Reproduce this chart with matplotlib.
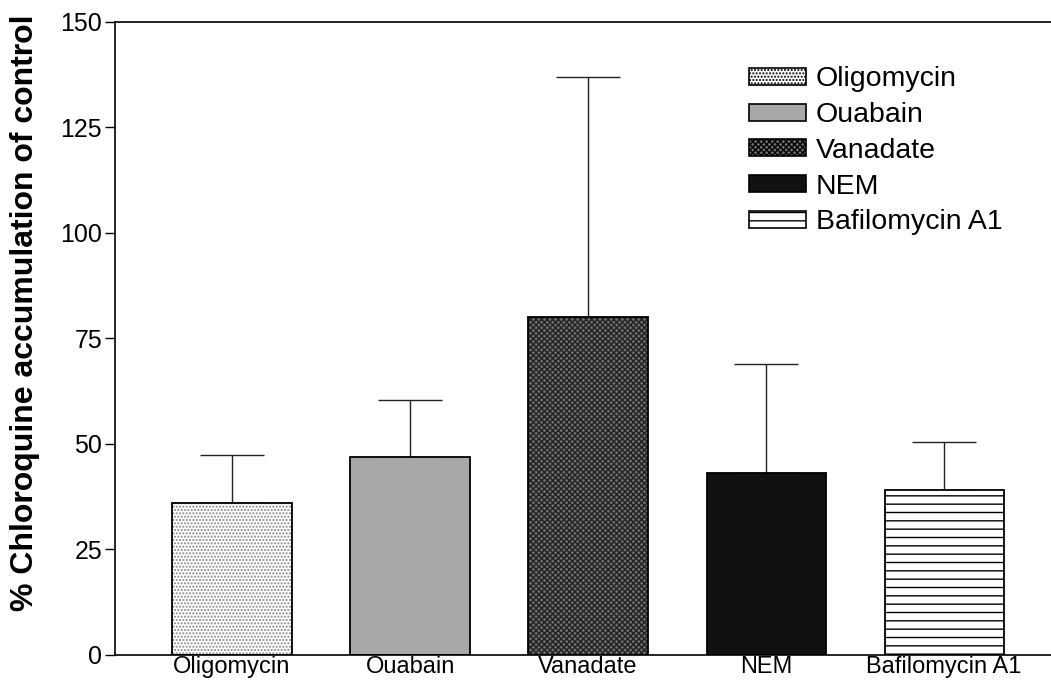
import matplotlib
matplotlib.use("Agg")
import matplotlib.pyplot as plt
import numpy as np

plt.rcParams['font.family'] = ['Liberation Sans', 'DejaVu Sans']
plt.rcParams['hatch.linewidth'] = 1.0

# data
treatments = ['Oligomycin', 'Ouabain', 'Vanadate', 'NEM', 'Bafilomycin A1']
accumulation = [36, 47, 80, 43, 39]
upper_err = [11.5, 13.5, 57, 26, 11.5]
y_ticks = [0, 25, 50, 75, 100, 125, 150]

faces = ['white', '#a8a8a8', '#6e6e6e', '#111111', 'white']
hatches = ['.....', None, 'xxxxxx', None, '--']
hatch_cols = ['#888888', 'black', '#222222', 'black', 'black']

fig = plt.figure(figsize=(10.51, 6.83), dpi=100)
ax = fig.add_axes([0.109, 0.041, 0.891, 0.927])

x = np.arange(len(treatments))
bars = []
for i in range(len(treatments)):
    b = ax.bar(x[i], accumulation[i], width=0.67, color=faces[i],
               hatch=hatches[i], edgecolor=hatch_cols[i], linewidth=0,
               label=treatments[i], zorder=2)
    # black outline
    ax.bar(x[i], accumulation[i], width=0.67, fill=False,
           edgecolor='black', linewidth=1.3, zorder=3)
    bars.append(b)

ax.errorbar(x, accumulation, yerr=[np.zeros(len(x)), upper_err], fmt='none',
            ecolor='#222222', elinewidth=1.0, capsize=23, capthick=1.0, zorder=1)

ax.set_xlim(-0.66, 4.6)
ax.set_ylim(0, 150)
ax.set_yticks(y_ticks)
ax.set_yticklabels([str(t) for t in y_ticks], fontsize=18)
ax.set_xticks(x)
ax.set_xticklabels(treatments, fontsize=17)
ax.tick_params(axis='x', length=0, pad=1)
ax.tick_params(axis='y', length=7, width=1, pad=2)
ax.set_ylabel('% Chloroquine accumulation of control', fontsize=23,
              fontweight='bold')
ax.yaxis.set_label_coords(-0.08, 0.54)
ax.spines['right'].set_visible(False)
for s in ['left', 'bottom', 'top']:
    ax.spines[s].set_linewidth(1.2)

leg = ax.legend(handles=bars, loc='upper left', bbox_to_anchor=(0.65, 0.97),
                frameon=False, fontsize=20.5, handlelength=2.0, handleheight=0.55,
                handletextpad=0.35, labelspacing=0.34)
for p in leg.get_patches():
    p.set_linewidth(1.2)
    p.set_edgecolor('black')

fig.savefig('out.png', dpi=100)
